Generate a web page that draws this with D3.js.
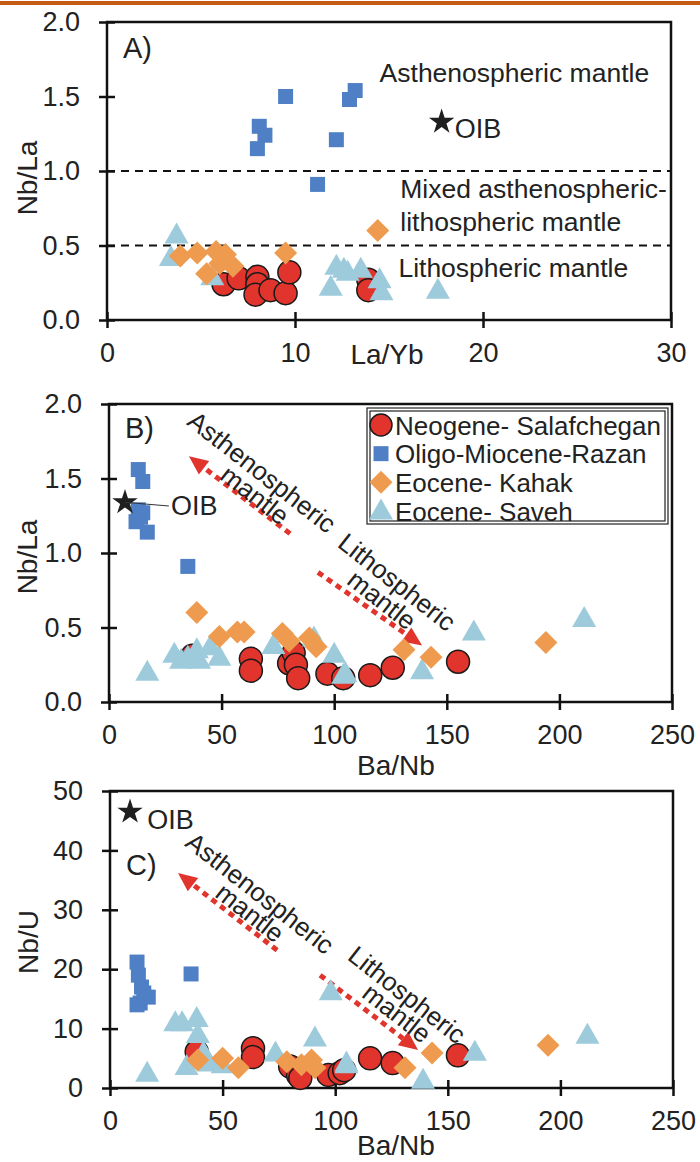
<!DOCTYPE html>
<html>
<head>
<meta charset="utf-8">
<script src="https://cdn.jsdelivr.net/npm/d3@7"></script>
<style>
  body { margin: 0; background: #fff; }
  text { font-family: "Liberation Sans", Arial, sans-serif; fill: #222; }
</style>
</head>
<body>
<div id="chart"></div>
<script>
// ---- data ----
// panel A: La/Yb vs Nb/La
var salafA = [[6.2,0.24],[7.0,0.28],[8.0,0.29],[8.0,0.24],[7.9,0.17],[8.7,0.20],[9.5,0.18],[9.7,0.32],[13.9,0.27],[13.9,0.20]];
var razanA = [[9.5,1.50],[8.1,1.30],[8.4,1.24],[8.0,1.15],[11.2,0.91],[12.2,1.21],[12.9,1.48],[13.2,1.54]];
var kahakA = [[3.9,0.43],[4.8,0.45],[5.3,0.31],[5.8,0.46],[6.3,0.44],[6.0,0.38],[6.7,0.36],[9.5,0.45],[14.4,0.60]];
var savehA = [[3.7,0.57],[3.4,0.42],[5.6,0.29],[11.9,0.22],[12.2,0.36],[12.8,0.32],[12.6,0.34],[13.5,0.34],[14.5,0.27],[14.6,0.19],[17.6,0.20]];
var oibA = [17.8, 1.33];

// panel B: Ba/Nb vs Nb/La
var salafB = [[37,0.31],[63,0.29],[63,0.21],[80,0.26],[82,0.33],[83,0.25],[84,0.16],[97,0.19],[104,0.16],[116,0.18],[126,0.23],[155,0.27]];
var razanB = [[13,1.56],[15,1.48],[13,1.29],[14,1.24],[15,1.27],[12,1.21],[17,1.14],[35,0.91]];
var kahakB = [[39,0.60],[49,0.44],[57,0.47],[60,0.47],[77,0.46],[80,0.41],[89,0.43],[92,0.37],[131,0.35],[143,0.30],[194,0.40]];
var savehB = [[17,0.20],[29,0.32],[32,0.28],[35,0.30],[39,0.35],[40,0.28],[45,0.37],[49,0.30],[73,0.38],[91,0.43],[100,0.32],[104,0.18],[105,0.19],[139,0.21],[162,0.47],[211,0.56]];
var oibB = [7.1, 1.34];

// panel C: Ba/Nb vs Nb/U
var salafC = [[38.5,6.1],[63.5,6.7],[63.5,5.2],[80,3.6],[83.5,2.2],[84.5,1.7],[97,2.2],[102,2.5],[104,3.0],[115.5,5.0],[125.5,4.2],[154.5,5.5]];
var razanC = [[12,21.2],[12.6,19],[14,17],[13.4,14.3],[17,15.3],[12,14],[15,16],[36,19.2]];
var kahakC = [[39,4.7],[50,5.0],[57,3.4],[78.5,4.4],[85,3.9],[89.5,4.7],[91,3.4],[131,3.4],[143,5.9],[194.5,7.2]];
var savehC = [[16.5,2.5],[29,11],[32,11],[34,3.6],[38.5,11.7],[39,9],[41.5,5.9],[44,4.2],[50,3.9],[73.5,5.9],[91,8.4],[98,16.2],[105,4.2],[105,3.9],[139,1.3],[162,6],[212,8.9]];
var oibC = [8.9, 46.5];

var ticksNbLa = [0, 0.5, 1.0, 1.5, 2.0];
var ticksLaYb = [0, 10, 20, 30];
var ticksBaNb = [0, 50, 100, 150, 200, 250];
var ticksNbU = [0, 10, 20, 30, 40, 50];

var legendNames = ["Neogene- Salafchegan", "Oligo-Miocene-Razan", "Eocene- Kahak", "Eocene- Saveh"];

var colors = { salaf: "#e0342c", razan: "#4f7fc4", kahak: "#ee9b4f", saveh: "#9dcbdc" };

var W = 700, H = 1162;
var svg = d3.select("#chart").append("svg").attr("width", W).attr("height", H);

// orange rule at top
svg.append("rect").attr("x", 0).attr("y", 1).attr("width", W).attr("height", 4).attr("fill", "#c55a11");

var star = d3.symbol().type(d3.symbolStar).size(200);
var square = d3.symbol().type(d3.symbolSquare).size(225);
var diamond = "M0,-11.5L11.5,0L0,11.5L-11.5,0Z";
var triangle = "M0,-12.5L12,8.5L-12,8.5Z";

function panel(o) {
  var x = d3.scaleLinear().domain(o.xdom).range([o.left, o.right]);
  var y = d3.scaleLinear().domain(o.ydom).range([o.bottom, o.top]);
  var g = svg.append("g");

  // frame
  g.append("rect").attr("x", o.left).attr("y", o.top)
    .attr("width", o.right - o.left).attr("height", o.bottom - o.top)
    .attr("fill", "none").attr("stroke", "#111").attr("stroke-width", 2.5);

  var ya = g.append("g").attr("transform", "translate(" + o.left + ",0)")
    .call(d3.axisLeft(y).tickValues(o.yticks).tickSize(8).tickPadding(19).tickFormat(o.yfmt));
  ya.selectAll(".tick line").attr("x1", 8);
  var xa = g.append("g").attr("transform", "translate(0," + o.bottom + ")")
    .call(d3.axisBottom(x).tickValues(o.xticks).tickSize(8).tickPadding(15).tickFormat(d3.format("d")));
  xa.selectAll(".tick line").attr("y1", -8);
  [ya, xa].forEach(function (a) {
    a.select(".domain").remove();
    a.selectAll(".tick line").attr("stroke", "#111").attr("stroke-width", 2.5);
    a.selectAll(".tick text").attr("font-size", 27).attr("fill", "#222")
      .style("font-family", "'Liberation Sans', Arial, sans-serif");
  });

  // axis titles
  g.append("text").attr("transform", "translate(" + o.ylabPos[0] + "," + o.ylabPos[1] + ") rotate(-90)")
    .attr("text-anchor", "middle").attr("dy", "0.35em").attr("font-size", 28).text(o.ylab);
  g.append("text").attr("x", o.xlabPos[0]).attr("y", o.xlabPos[1])
    .attr("text-anchor", "middle").attr("font-size", 28).text(o.xlab);

  // panel letter
  g.append("text").attr("x", o.left + 16).attr("y", o.letterY).attr("font-size", 29).text(o.letter);

  if (o.extra) o.extra(g, x, y);

  // points
  g.append("g").selectAll("circle").data(o.salaf).join("circle")
    .attr("cx", function (d) { return x(d[0]); }).attr("cy", function (d) { return y(d[1]); })
    .attr("r", 11.5).attr("fill", colors.salaf).attr("stroke", "#1a1a1a").attr("stroke-width", 1.5);
  g.append("g").selectAll("path").data(o.razan).join("path")
    .attr("d", square).attr("transform", function (d) { return "translate(" + x(d[0]) + "," + y(d[1]) + ")"; })
    .attr("fill", colors.razan);
  g.append("g").selectAll("path").data(o.saveh).join("path")
    .attr("d", triangle).attr("transform", function (d) { return "translate(" + x(d[0]) + "," + y(d[1]) + ")"; })
    .attr("fill", colors.saveh);
  g.append("g").selectAll("path").data(o.kahak).join("path")
    .attr("d", diamond).attr("transform", function (d) { return "translate(" + x(d[0]) + "," + y(d[1]) + ")"; })
    .attr("fill", colors.kahak);

  // OIB star
  g.append("path").attr("d", star)
    .attr("transform", "translate(" + x(o.oib[0]) + "," + y(o.oib[1]) + ")").attr("fill", "#1f1f1f");
  if (o.oibLine) {
    g.append("line").attr("x1", x(o.oib[0])).attr("y1", y(o.oib[1]))
      .attr("x2", x(o.oibText[0]) - 2).attr("y2", y(o.oibText[1]) - 9)
      .attr("stroke", "#333").attr("stroke-width", 1);
  }
  g.append("text").attr("x", x(o.oibText[0])).attr("y", y(o.oibText[1])).attr("font-size", 27).text("OIB");
  return { x: x, y: y, g: g };
}

function arrow(g, x, y, from, to) {
  var x1 = x(from[0]), y1 = y(from[1]), x2 = x(to[0]), y2 = y(to[1]);
  var ang = Math.atan2(y2 - y1, x2 - x1);
  var len = 19, half = 8.5;
  var bx = x2 - len * Math.cos(ang), by = y2 - len * Math.sin(ang);
  g.append("line").attr("x1", x1).attr("y1", y1).attr("x2", bx).attr("y2", by)
    .attr("stroke", "#e0342c").attr("stroke-width", 5).attr("stroke-dasharray", "6,5");
  var px = -Math.sin(ang) * half, py = Math.cos(ang) * half;
  g.append("path").attr("d", "M" + x2 + "," + y2 + "L" + (bx + px) + "," + (by + py) + "L" + (bx - px) + "," + (by - py) + "Z")
    .attr("fill", "#e0342c");
}

function slanted(g, x, y, items) {
  items.forEach(function (t) {
    g.append("text").attr("transform", "translate(" + x(t[1]) + "," + y(t[2]) + ") rotate(38)")
      .attr("text-anchor", "middle").attr("dy", "0.35em").attr("font-size", 26).text(t[0]);
  });
}

// ---- panel A ----
panel({
  left: 107, right: 671, top: 22, bottom: 320,
  xdom: [0, 30], ydom: [0, 2], xticks: ticksLaYb, yticks: ticksNbLa, yfmt: d3.format(".1f"),
  ylab: "Nb/La", ylabPos: [27, 178], xlab: "La/Yb", xlabPos: [387, 364],
  letter: "A)", letterY: 58,
  salaf: salafA, razan: razanA, kahak: kahakA, saveh: savehA,
  oib: oibA, oibText: [18.5, 1.22],
  extra: function (g, x, y) {
    [1.0, 0.5].forEach(function (v) {
      g.append("line").attr("x1", x(0)).attr("x2", x(30)).attr("y1", y(v)).attr("y2", y(v))
        .attr("stroke", "#111").attr("stroke-width", 2).attr("stroke-dasharray", "8,6");
    });
    var lab = [["Asthenospheric mantle", 14.5, 1.595], ["Mixed asthenospheric-", 15.6, 0.82],
               ["lithospheric mantle", 15.6, 0.60], ["Lithospheric mantle", 15.5, 0.29]];
    lab.forEach(function (t) {
      g.append("text").attr("x", x(t[1])).attr("y", y(t[2])).attr("font-size", 26.5).text(t[0]);
    });
  }
});

// ---- panel B ----
panel({
  left: 109, right: 672, top: 404, bottom: 702,
  xdom: [0, 250], ydom: [0, 2], xticks: ticksBaNb, yticks: ticksNbLa, yfmt: d3.format(".1f"),
  ylab: "Nb/La", ylabPos: [27, 557], xlab: "Ba/Nb", xlabPos: [396, 775],
  letter: "B)", letterY: 438,
  salaf: salafB, razan: razanB, kahak: kahakB, saveh: savehB,
  oib: oibB, oibText: [27.5, 1.255], oibLine: true,
  extra: function (g, x, y) {
    arrow(g, x, y, [80.4, 1.13], [35.5, 1.65]);
    arrow(g, x, y, [92.8, 0.87], [139, 0.38]);
    slanted(g, x, y, [["Asthenospheric", 67.9, 1.544], ["mantle", 64.8, 1.389],
                      ["Lithospheric", 127.9, 0.805], ["mantle", 121.2, 0.685]]);
  }
});

// legend in panel B
var lg = svg.append("g");
lg.append("rect").attr("x", 367).attr("y", 408).attr("width", 301).attr("height", 116)
  .attr("fill", "#fff").attr("stroke", "#222").attr("stroke-width", 1.2);
lg.append("rect").attr("x", 370).attr("y", 411).attr("width", 295).attr("height", 110)
  .attr("fill", "none").attr("stroke", "#222").attr("stroke-width", 1.2);
var rowY = d3.scalePoint().domain(legendNames).range([425, 511]);
var shapes = [null, square, diamond, triangle];
var fills = [colors.salaf, colors.razan, colors.kahak, colors.saveh];
legendNames.forEach(function (n, i) {
  var cy = rowY(n);
  if (i === 0) {
    lg.append("circle").attr("cx", 381).attr("cy", cy).attr("r", 11)
      .attr("fill", fills[0]).attr("stroke", "#1a1a1a").attr("stroke-width", 1.5);
  } else {
    lg.append("path").attr("d", shapes[i]).attr("transform", "translate(381," + cy + ")").attr("fill", fills[i]);
  }
  lg.append("text").attr("x", 395).attr("y", cy + 9.5).attr("font-size", 26).text(n);
});

// ---- panel C ----
panel({
  left: 110, right: 673, top: 791, bottom: 1088,
  xdom: [0, 250], ydom: [0, 50], xticks: ticksBaNb, yticks: ticksNbU, yfmt: d3.format("d"),
  ylab: "Nb/U", ylabPos: [28, 942], xlab: "Ba/Nb", xlabPos: [396, 1155],
  letter: "C)", letterY: 875,
  salaf: salafC, razan: razanC, kahak: kahakC, saveh: savehC,
  oib: oibC, oibText: [16.5, 43.6],
  extra: function (g, x, y) {
    arrow(g, x, y, [74.2, 23.2], [30.2, 36.2]);
    arrow(g, x, y, [93.3, 19.0], [136.8, 6.4]);
    slanted(g, x, y, [["Asthenospheric", 66.6, 32.8], ["mantle", 62.2, 29.5],
                      ["Lithospheric", 131.9, 15.7], ["mantle", 127.4, 12.6]]);
  }
});
</script>
</body>
</html>
